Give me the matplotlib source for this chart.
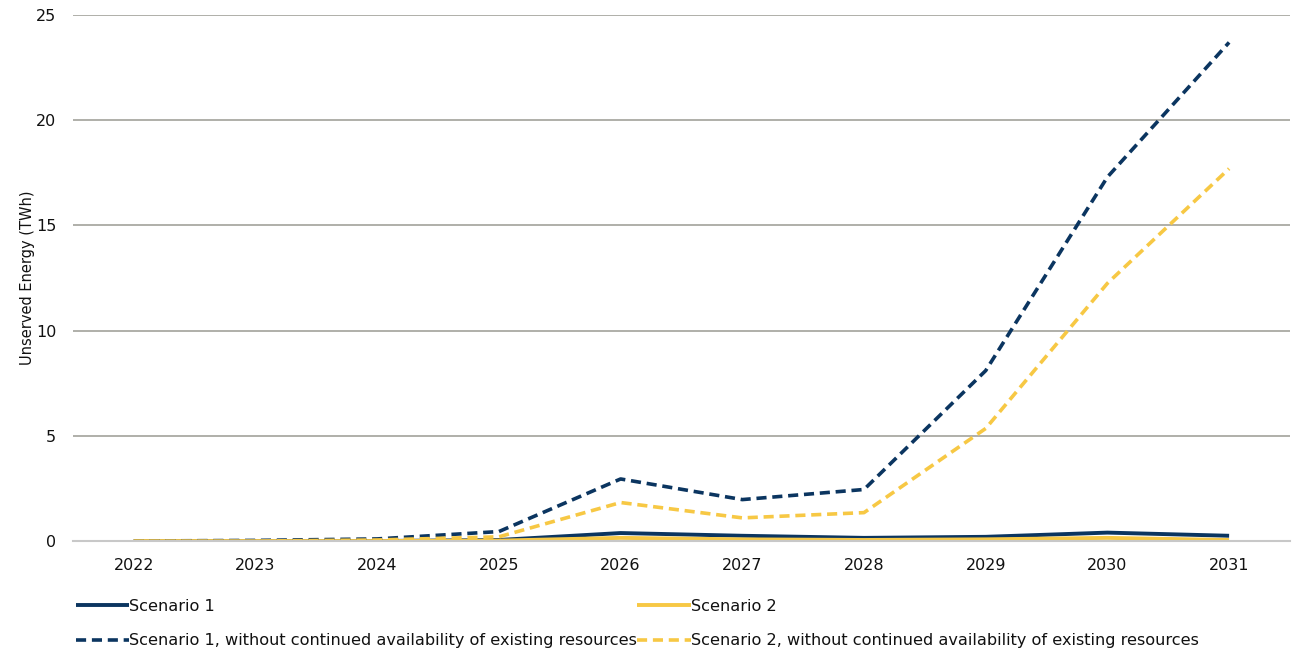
import matplotlib
matplotlib.use('Agg')
import matplotlib.pyplot as plt
import numpy as np

# Data
years = ['2022', '2023', '2024', '2025', '2026', '2027', '2028', '2029', '2030', '2031']
scenario1 = [0.0, 0.0, 0.0, 0.05, 0.38, 0.25, 0.15, 0.2, 0.4, 0.25]
scenario2 = [0.0, 0.0, 0.0, 0.02, 0.15, 0.08, 0.05, 0.08, 0.15, 0.05]
scenario1_no_existing = [0.0, 0.03, 0.1, 0.45, 2.95, 1.97, 2.45, 8.1, 17.3, 23.7]
scenario2_no_existing = [0.0, 0.0, 0.05, 0.2, 1.83, 1.1, 1.35, 5.35, 12.25, 17.7]

navy = '#0B3560'
gold = '#F7C844'

plt.rcParams['font.family'] = ['DejaVu Sans']

fig = plt.figure(figsize=(12.98, 6.55), dpi=100)
ax = fig.add_axes([0.0562, 0.174, 0.9376, 0.803])

x = np.arange(len(years))
l1, = ax.plot(x, scenario1, color=navy, lw=2.8, label='Scenario 1', solid_capstyle='butt')
l2, = ax.plot(x, scenario2, color=gold, lw=2.8, label='Scenario 2', solid_capstyle='butt')
l3, = ax.plot(x, scenario1_no_existing, color=navy, lw=2.6, dashes=(2.8, 1.6),
              label='Scenario 1, without continued availability of existing resources')
l4, = ax.plot(x, scenario2_no_existing, color=gold, lw=2.6, dashes=(2.8, 1.6),
              label='Scenario 2, without continued availability of existing resources')

ax.set_xlim(-0.5, len(years) - 0.5)
ax.set_ylim(0, 25)
ax.set_yticks([0, 5, 10, 15, 20, 25])
ax.set_xticks(x)
ax.set_xticklabels(years)
ax.yaxis.grid(True, color='#A9A9A2', lw=1.3)
ax.set_axisbelow(True)
for s in ['top', 'right', 'left']:
    ax.spines[s].set_visible(False)
ax.spines['bottom'].set_color('#C8C8C8')
ax.spines['bottom'].set_linewidth(1.5)
ax.tick_params(axis='both', length=0, labelsize=11.5, colors='#111111')
ax.tick_params(axis='x', pad=12)
ax.tick_params(axis='y', pad=12)
ax.set_ylabel('Unserved Energy (TWh)', fontsize=10.5, labelpad=1, color='#111111')

fig.legend(handles=[l1, l3, l2, l4], ncol=2, frameon=False, loc='lower left',
           bbox_to_anchor=(0.047, -0.012), handlelength=3.3, handletextpad=0.0,
           columnspacing=0.05, labelspacing=1.2, fontsize=11.6,
           labelcolor='#111111')

fig.savefig('out.png', dpi=100)
